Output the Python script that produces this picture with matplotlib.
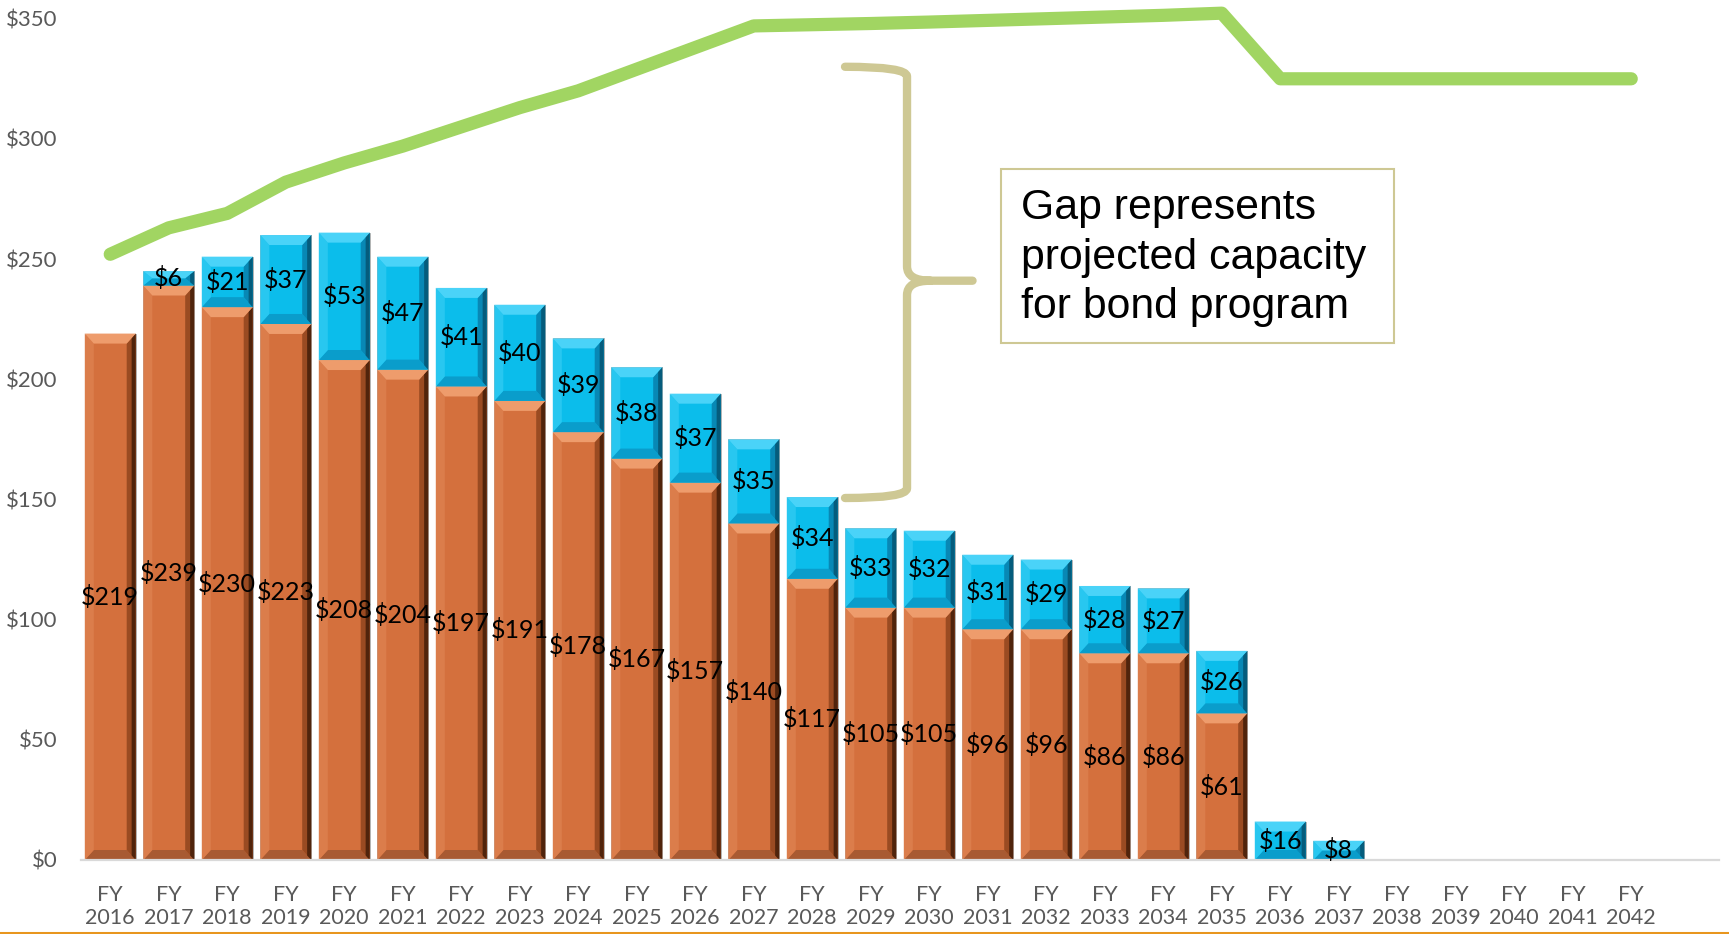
import matplotlib
matplotlib.use("Agg")
import matplotlib.pyplot as plt
from matplotlib.patches import Polygon, Rectangle, PathPatch
from matplotlib.path import Path
from matplotlib.lines import Line2D
import numpy as np

# data ($ millions)
years = ["FY\n%d" % y for y in range(2016, 2043)]
existing = [219, 239, 230, 223, 208, 204, 197, 191, 178, 167, 157, 140, 117,
            105, 105, 96, 96, 86, 86, 61, 0, 0]
gap = [0, 6, 21, 37, 53, 47, 41, 40, 39, 38, 37, 35, 34, 33, 32, 31, 29, 28,
       27, 26, 16, 8]
capacity = [252, 263, 269, 282, 290, 297, 305, 313, 320, 329, 338, 347, 347.5,
            348, 348.6, 349.3, 350, 350.7, 351.4, 352.3, 325, 325, 325, 325,
            325, 325, 325]
note = "Gap represents\nprojected capacity\nfor bond program"

ORANGE = dict(base="#D4703D", top="#EE9C6C", left="#DB7D4B", right="#9A4B22",
              outer="#50240C", bottom="#A85A32")
BLUE = dict(base="#0BBDEB", top="#4AD3F8", left="#28C7F0", right="#0888B5",
            outer="#055C7C", bottom="#0A9DCB")
GRAY = "#595959"

W, H = 1729, 934
fig = plt.figure(figsize=(W / 100, H / 100), dpi=100)
ax = fig.add_axes([81 / W, 74 / H, 1638 / W, 841.3 / H])

x = np.arange(len(existing))
b1 = ax.bar(x, existing, 0.87, color=ORANGE["base"], edgecolor="#B4B4B4",
            linewidth=0.7, zorder=2)
b2 = ax.bar(x, gap, 0.87, bottom=existing, color=BLUE["base"],
            edgecolor="#B4B4B4", linewidth=0.7, zorder=2)

# fake excel bevel: px sizes turned into data units
BX = 9 / 58.5
BY = 10 / 2.404


def bevel(p, c):
    x0, y0 = p.get_x(), p.get_y()
    w, h = p.get_width(), p.get_height()
    if h <= 0:
        return
    x1, y1 = x0 + w, y0 + h
    bx, by = BX, min(BY, h / 2)
    shapes = [
        ([(x0, y0), (x1, y0), (x1 - bx, y0 + by), (x0 + bx, y0 + by)], c["bottom"]),
        ([(x0, y0), (x0 + bx, y0 + by), (x0 + bx, y1 - by), (x0, y1)], c["left"]),
        ([(x1, y0), (x1 - bx, y0 + by), (x1 - bx, y1 - by), (x1, y1)], c["right"]),
        ([(x1, y0), (x1 - bx * 0.45, y0 + by * 0.45), (x1 - bx * 0.45, y1 - by * 0.45), (x1, y1)], c["outer"]),
        ([(x0, y1), (x1, y1), (x1 - bx, y1 - by), (x0 + bx, y1 - by)], c["top"]),
    ]
    for pts, col in shapes:
        ax.add_patch(Polygon(pts, closed=True, facecolor=col, edgecolor="none", zorder=2.5))


for p in b1:
    bevel(p, ORANGE)
for p in b2:
    bevel(p, BLUE)

lab = dict(ha="center", va="center", fontsize=18, family="Lato", color="black", zorder=4)
for i in range(len(existing)):
    if existing[i] > 0:
        ax.text(x[i], existing[i] / 2, "$%d" % existing[i], **lab)
    if gap[i] > 0:
        ax.text(x[i], existing[i] + gap[i] / 2, "$%d" % gap[i], **lab)

ax.plot(np.arange(len(capacity)), capacity, color="#A1D562", lw=9.5,
        solid_capstyle="round", solid_joinstyle="round", zorder=5, clip_on=False)

ax.set_xlim(-0.5, 27.5)
ax.set_ylim(0, 350)
ax.set_xticks(np.arange(len(years)))
ax.set_xticklabels(years, fontsize=15.5, family="Lato", color=GRAY)
ax.set_yticks(range(0, 351, 50))
ax.set_yticklabels(["$%d" % v for v in range(0, 351, 50)], fontsize=16,
                   family="Lato", color=GRAY)
ax.tick_params(axis="x", length=0, pad=18)
ax.tick_params(axis="y", length=0, pad=17)
for s in ["top", "right", "left"]:
    ax.spines[s].set_visible(False)
ax.spines["bottom"].set_color("#D9D9D9")
ax.spines["bottom"].set_linewidth(1.6)

# curly brace next to the gap
x0, xv, xt = 12.56, 13.62, 14.74
yt, ym, yb = 330, 241, 150.6
verts = [(x0, yt), (xv, yt), (xv, yt - 4), (xv, ym + 6), (xv, ym), (xv + 0.4, ym),
         (xt, ym),
         (xv + 0.4, ym), (xv, ym), (xv, ym - 6), (xv, yb + 4), (xv, yb), (x0, yb)]
codes = [Path.MOVETO, Path.CURVE3, Path.CURVE3, Path.LINETO, Path.CURVE3, Path.CURVE3,
         Path.LINETO,
         Path.MOVETO, Path.CURVE3, Path.CURVE3, Path.LINETO, Path.CURVE3, Path.CURVE3]
ax.add_patch(PathPatch(Path(verts, codes), facecolor="none", edgecolor="#CEC894",
                       lw=6, capstyle="round", joinstyle="round", zorder=3))

ax.add_patch(Rectangle((0.5617, 0.6145), 0.2399, 0.2068, transform=ax.transAxes,
                       facecolor="white", edgecolor="#CEC894", lw=1.5, zorder=3))
ax.text(0.574, 0.716, note, transform=ax.transAxes, ha="left", va="center",
        fontsize=30.8, family="Liberation Sans", color="black", linespacing=1.3, zorder=4)

fig.add_artist(Line2D([0, 1], [1.5 / H, 1.5 / H], transform=fig.transFigure,
                      color="#E8961E", lw=2.2))

fig.savefig("out.png", dpi=100, facecolor="white")
